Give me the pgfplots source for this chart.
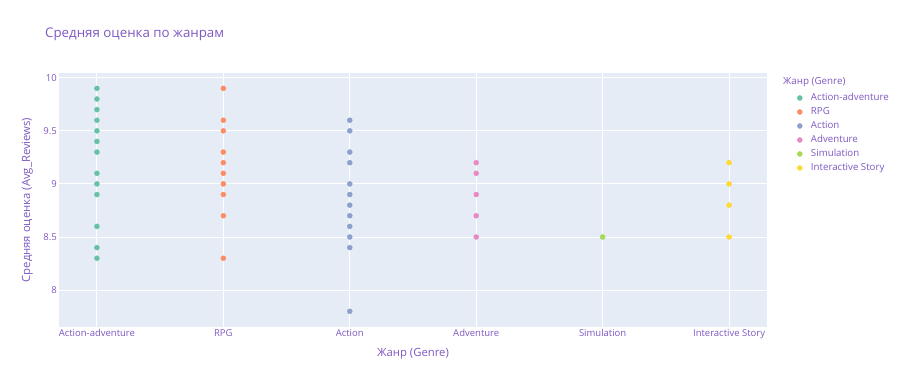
\documentclass[border=0pt]{standalone}
\usepackage{pgfplots}
\pgfplotsset{compat=1.18}
\usepackage{fontspec}
\setmainfont{Open Sans}
\definecolor{txt}{HTML}{7E57C2}
\definecolor{bg}{HTML}{E5ECF6}
\definecolor{c1}{HTML}{66C2A5}
\definecolor{c2}{HTML}{FC8D62}
\definecolor{c3}{HTML}{8DA0CB}
\definecolor{c4}{HTML}{E78AC3}
\definecolor{c5}{HTML}{A6D854}
\definecolor{c6}{HTML}{FFD92F}
\begin{document}
\begin{tikzpicture}[x=1bp,y=1bp]
\path[use as bounding box] (0,0) rectangle (900,386);
\node[anchor=base west, text=txt, font=\fontsize{13.3bp}{16bp}\selectfont, inner sep=0pt] at (45,348.2) {Средняя оценка по жанрам};
\node[anchor=west, text=txt, font=\fontsize{9.8bp}{12bp}\selectfont, inner sep=0pt] at (783,303.7) {Жанр (Genre)};
\begin{axis}[
  at={(59bp,59bp)}, anchor=south west,
  scale only axis, width=708bp, height=254bp,
  xmin=-0.3, xmax=5.3, ymin=7.652, ymax=10.045,
  axis background/.style={fill=bg},
  axis line style={draw=none},
  tick style={draw=none},
  grid=major, grid style={white, line width=0.9bp},
  xtick={0,1,2,3,4,5},
  xticklabels={Action-adventure,RPG,Action,Adventure,Simulation,Interactive Story},
  ytick={8,8.5,9,9.5,10},
  yticklabels={8,8.5,9,9.5,10},
  ticklabel style={text=txt, font=\fontsize{9.5bp}{12bp}\selectfont, inner sep=0pt},
  xticklabel style={anchor=north, yshift=-2.5bp},
  yticklabel style={anchor=east, xshift=-2bp},
  xlabel={Жанр (Genre)},
  ylabel={Средняя оценка (Avg\_Reviews)},
  label style={text=txt, font=\fontsize{11.3bp}{14bp}\selectfont, inner sep=0pt},
  xlabel style={at={(axis description cs:0.5,-0.1039)}, anchor=center},
  ylabel style={at={(axis description cs:-0.0448,0.5)}, anchor=center},
  legend image code/.code={\fill[#1] (0bp,0bp) circle (2.5bp);},
  legend cell align=left,
  legend style={at={(1.038,0.928)}, anchor=north west, draw=none, fill=none,
    text=txt, font=\fontsize{9.7bp}{12bp}\selectfont,
    nodes={inner sep=0pt, text height=7bp, text depth=2bp},
    row sep=5bp,
    /tikz/every odd column/.append style={column sep=8.5bp}},
  every axis plot/.append style={only marks, mark=*, mark size=2.5bp, mark options={draw=none}},
]
\addplot[color=c1] coordinates {(0,9.9)(0,9.8)(0,9.7)(0,9.6)(0,9.5)(0,9.4)(0,9.3)(0,9.1)(0,9.0)(0,8.9)(0,8.6)(0,8.4)(0,8.3)};
\addlegendentry{Action-adventure}
\addplot[color=c2] coordinates {(1,9.9)(1,9.6)(1,9.5)(1,9.3)(1,9.2)(1,9.1)(1,9.0)(1,8.9)(1,8.7)(1,8.3)};
\addlegendentry{RPG}
\addplot[color=c3] coordinates {(2,9.6)(2,9.5)(2,9.3)(2,9.2)(2,9.0)(2,8.9)(2,8.8)(2,8.7)(2,8.6)(2,8.5)(2,8.4)(2,7.8)};
\addlegendentry{Action}
\addplot[color=c4] coordinates {(3,9.2)(3,9.1)(3,8.9)(3,8.7)(3,8.5)};
\addlegendentry{Adventure}
\addplot[color=c5] coordinates {(4,8.5)};
\addlegendentry{Simulation}
\addplot[color=c6] coordinates {(5,9.2)(5,9.0)(5,8.8)(5,8.5)};
\addlegendentry{Interactive Story}
\end{axis}
\end{tikzpicture}
\end{document}
